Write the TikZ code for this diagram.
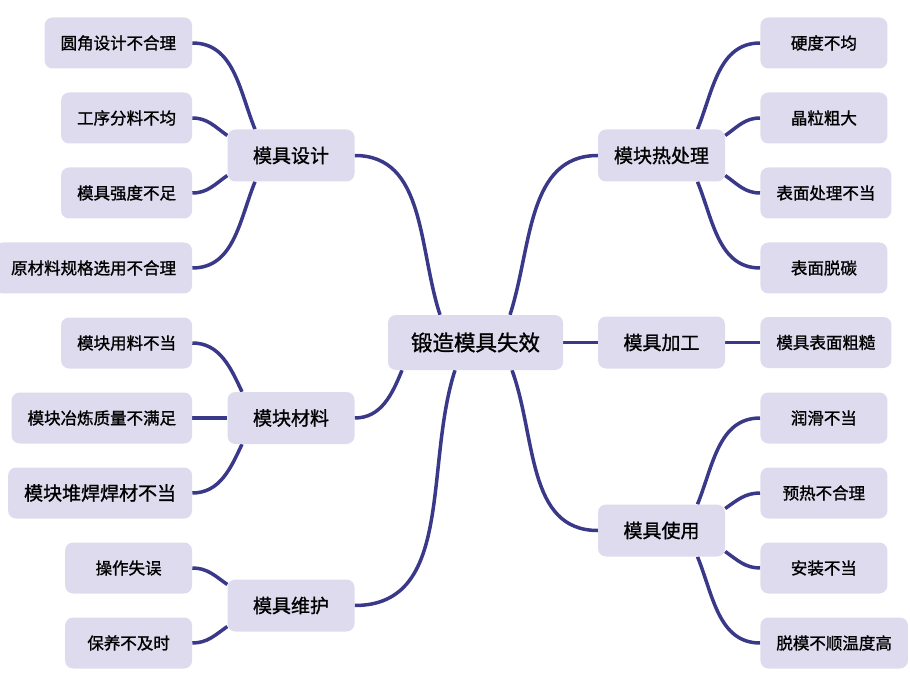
\documentclass[tikz,border=0pt]{standalone}
\usepackage{fontspec}
\setmainfont{Noto Sans CJK SC}[UprightFeatures={FakeBold=1.2}]
\usetikzlibrary{positioning,backgrounds}
\definecolor{boxfill}{RGB}{221,219,237}
\definecolor{linknavy}{RGB}{58,56,136}

\begin{document}
\begin{tikzpicture}[
    x=1pt, y=1pt,
    node distance=35pt,
    root/.style={
        rectangle,
        fill=boxfill,
        rounded corners=8pt,
        minimum width=175pt,
        minimum height=55pt,
        font=\fontsize{21.5}{24}\selectfont
    },
    branch/.style={
        rectangle,
        fill=boxfill,
        rounded corners=8pt,
        minimum width=127pt,
        minimum height=52pt,
        font=\fontsize{19}{22}\selectfont
    },
    leaf/.style={
        rectangle,
        fill=boxfill,
        rounded corners=8pt,
        minimum width=127pt,
        minimum height=51pt,
        inner xsep=16pt,
        font=\fontsize{16.5}{19}\selectfont
    },
    link/.style={
        draw,
        line width=3.5pt,
        color=linknavy
    }
]
    \useasboundingbox (0,0) rectangle (910,-676);

    % --- Centre and main branches ---
    \node [root] (fail) at (475.5,-342.5) {锻造模具失效};
    \node [branch] (design) at (291,-155.5) {模具设计};
    \node [branch] (mat) at (291,-418) {模块材料};
    \node [branch] (care) at (291,-605.5) {模具维护};
    \node [branch] (heat) at (661.5,-155.5) {模块热处理};
    \node [branch] (proc) at (661.5,-342.5) {模具加工};
    \node [branch] (use) at (661.5,-530.5) {模具使用};

    % --- Left leaves ---
    \node [leaf, left=of design.west, yshift=112.5pt] (d1) {圆角设计不合理};
    \node [leaf, left=of design.west, yshift=37.5pt] (d2) {工序分料不均};
    \node [leaf, left=of design.west, yshift=-37.5pt] (d3) {模具强度不足};
    \node [leaf, left=of design.west, yshift=-112.5pt] (d4) {原材料规格选用不合理};

    \node [leaf, left=of mat.west, yshift=75pt] (m1) {模块用料不当};
    \node [leaf, left=of mat.west] (m2) {模块冶炼质量不满足};
    \node [leaf, left=of mat.west, yshift=-75pt,
           font=\fontsize{19}{22}\selectfont] (m3) {模块堆焊焊材不当};

    \node [leaf, left=of care.west, yshift=37.5pt] (c1) {操作失误};
    \node [leaf, left=of care.west, yshift=-37.5pt] (c2) {保养不及时};

    % --- Right leaves ---
    \node [leaf, right=of heat.east, yshift=112.5pt] (h1) {硬度不均};
    \node [leaf, right=of heat.east, yshift=37.5pt] (h2) {晶粒粗大};
    \node [leaf, right=of heat.east, yshift=-37.5pt] (h3) {表面处理不当};
    \node [leaf, right=of heat.east, yshift=-112.5pt] (h4) {表面脱碳};

    \node [leaf, right=of proc.east] (p1) {模具表面粗糙};

    \node [leaf, right=of use.east, yshift=112.5pt] (u1) {润滑不当};
    \node [leaf, right=of use.east, yshift=37.5pt] (u2) {预热不合理};
    \node [leaf, right=of use.east, yshift=-37.5pt] (u3) {安装不当};
    \node [leaf, right=of use.east, yshift=-112.5pt] (u4) {脱模不顺温度高};

    % --- Connections ---
    \begin{scope}[on background layer]
    % centre to branches
    \path [link] ([xshift=-35.5pt]fail.north) to[out=108, in=0] (design.east);
    \path [link] ([xshift=-73.5pt]fail.south) to[out=248, in=0] (mat.east);
    \path [link] ([xshift=-20.5pt]fail.south) to[out=252, in=0] (care.east);
    \path [link] ([xshift=34.5pt]fail.north) to[out=72, in=180] (heat.west);
    \path [link] (fail.east) -- (proc.west);
    \path [link] ([xshift=36.5pt]fail.south) to[out=290, in=180] (use.west);

    % design
    \path [link] ([xshift=-36pt]design.north) to[out=112, in=0] (d1.east);
    \path [link] ([yshift=20pt]design.west) to[out=145, in=0] (d2.east);
    \path [link] ([yshift=-20pt]design.west) to[out=215, in=0] (d3.east);
    \path [link] ([xshift=-36pt]design.south) to[out=248, in=0] (d4.east);

    % material
    \path [link] ([xshift=-49pt]mat.north) to[out=115, in=0] (m1.east);
    \path [link] (mat.west) -- (m2.east);
    \path [link] ([xshift=-49pt]mat.south) to[out=245, in=0] (m3.east);

    % maintenance
    \path [link] ([yshift=21pt]care.west) to[out=145, in=0] (c1.east);
    \path [link] ([yshift=-21pt]care.west) to[out=215, in=0] (c2.east);

    % heat treatment
    \path [link] ([xshift=36pt]heat.north) to[out=68, in=180] (h1.west);
    \path [link] ([yshift=20pt]heat.east) to[out=35, in=180] (h2.west);
    \path [link] ([yshift=-20pt]heat.east) to[out=-35, in=180] (h3.west);
    \path [link] ([xshift=36pt]heat.south) to[out=-68, in=180] (h4.west);

    % machining
    \path [link] (proc.east) -- (p1.west);

    % use
    \path [link] ([xshift=36pt]use.north) to[out=68, in=180] (u1.west);
    \path [link] ([yshift=22pt]use.east) to[out=35, in=180] (u2.west);
    \path [link] ([yshift=-21pt]use.east) to[out=-35, in=180] (u3.west);
    \path [link] ([xshift=36pt]use.south) to[out=-68, in=180] (u4.west);
    \end{scope}

\end{tikzpicture}
\end{document}
